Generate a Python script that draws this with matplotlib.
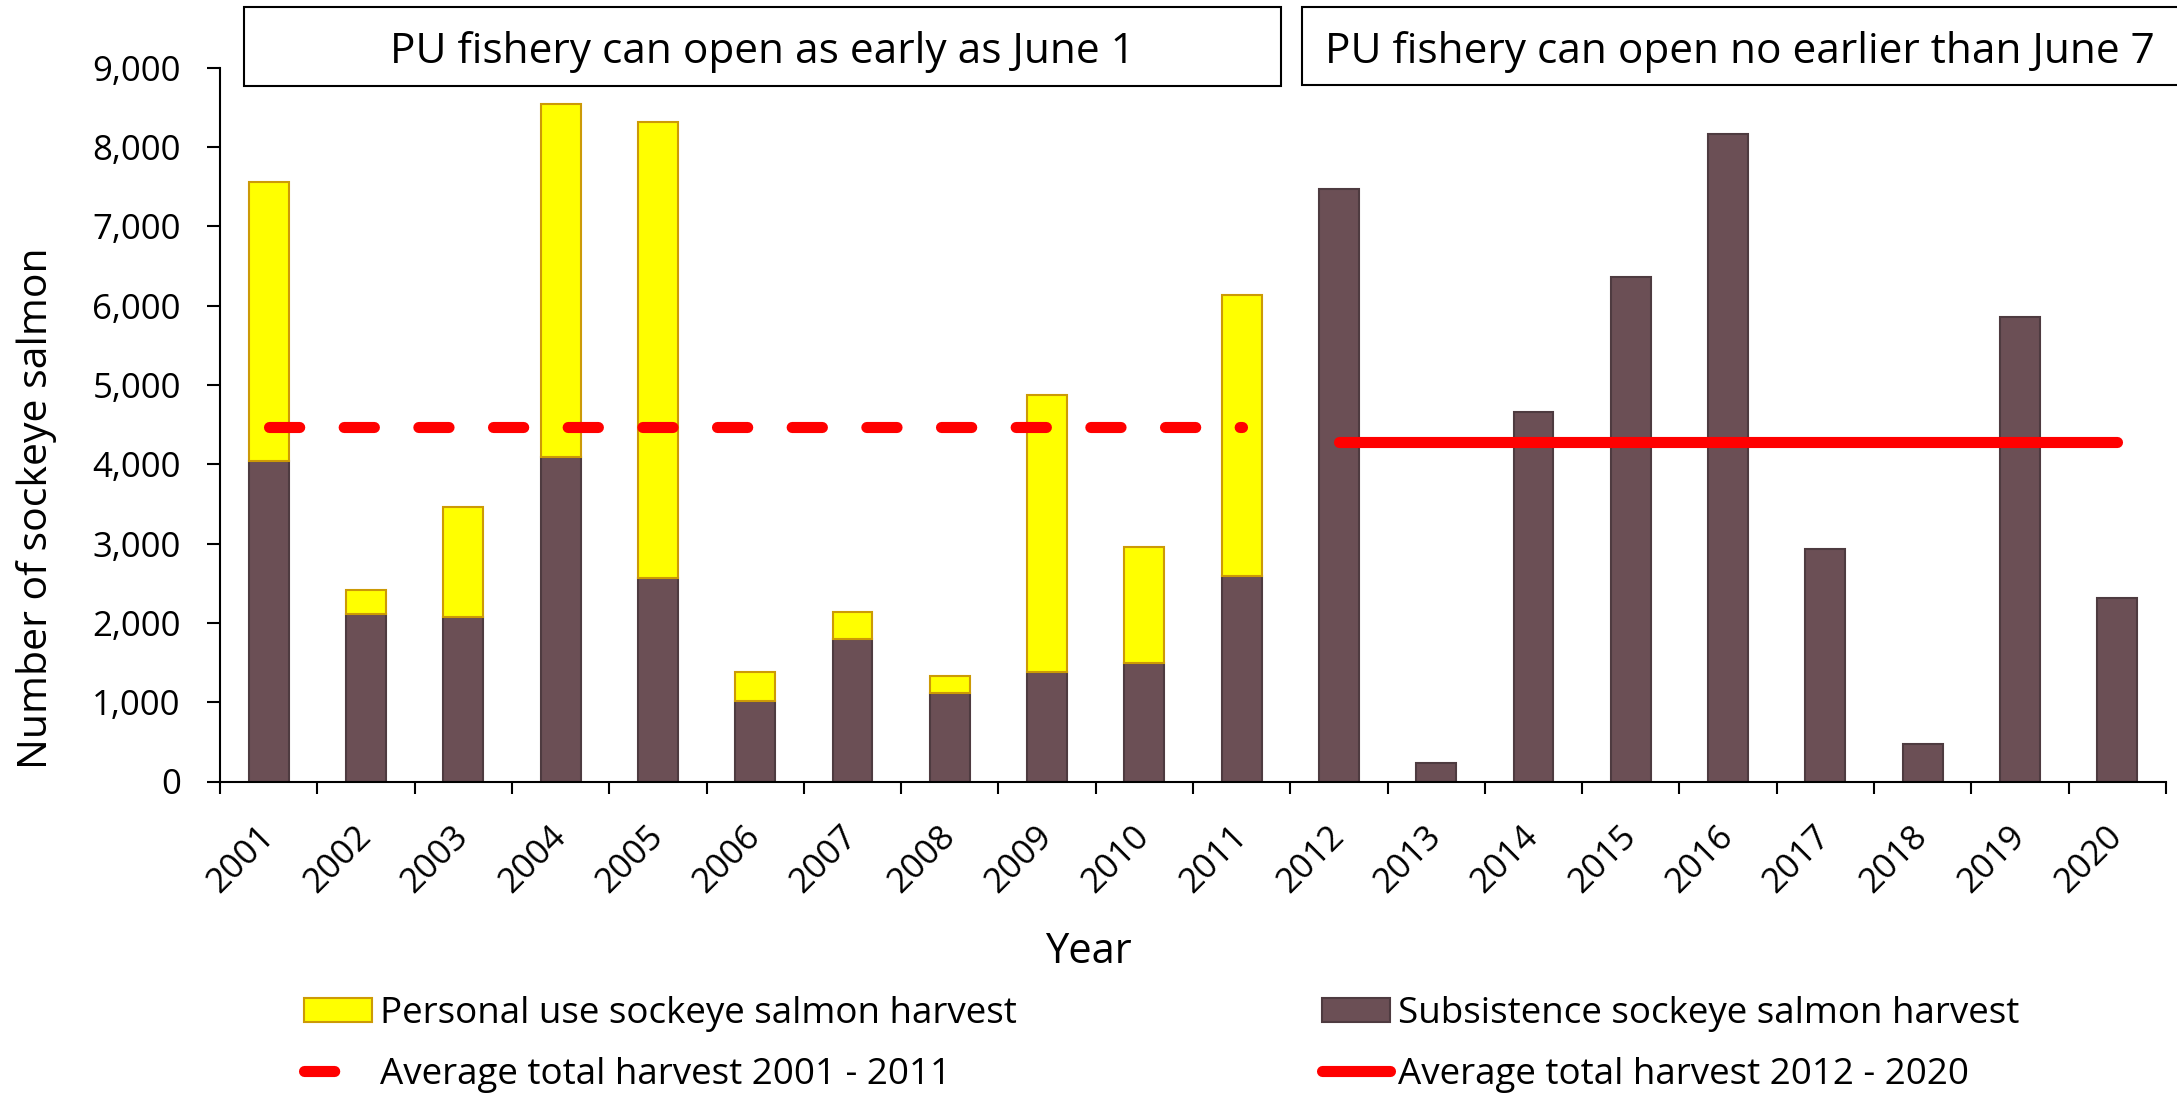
import numpy as np
import matplotlib
matplotlib.use("Agg")
import matplotlib.pyplot as plt
from matplotlib.patches import Rectangle, Patch
from matplotlib.lines import Line2D

# ---------------- data ----------------
years = ["2001", "2002", "2003", "2004", "2005", "2006", "2007", "2008", "2009", "2010",
         "2011", "2012", "2013", "2014", "2015", "2016", "2017", "2018", "2019", "2020"]
subsistence = [4045, 2110, 2072, 4096, 2563, 1017, 1802, 1114, 1382, 1496,
               2592, 7469, 239, 4659, 6355, 8166, 2936, 479, 5856, 2319]
personal_use = [3515, 310, 1386, 4450, 5747, 365, 340, 214, 3494, 1462, 3545]
ytick_vals = [0, 1000, 2000, 3000, 4000, 5000, 6000, 7000, 8000, 9000]
ytick_labels = ["0", "1,000", "2,000", "3,000", "4,000", "5,000", "6,000", "7,000", "8,000", "9,000"]
box_texts = ["PU fishery can open as early as June 1", "PU fishery can open no earlier than June 7"]
legend_labels = ["Personal use sockeye salmon harvest", "Subsistence sockeye salmon harvest",
                 "Average total harvest 2001 - 2011", "Average total harvest 2012 - 2020"]

# ---------------- style ----------------
W, H = 2177, 1095
DPI = 100
plt.rcParams['font.family'] = ['Open Sans', 'DejaVu Sans']
SUB_COL = "#6B4F55"
SUB_EDGE = "#4E3B40"
PU_COL = "#FFFF00"
PU_EDGE = "#CC9A06"
RED = "#FF0000"

fig = plt.figure(figsize=(W / DPI, H / DPI), dpi=DPI)
fx = lambda px: px / W
fy = lambda py: 1 - py / H

ax_left, ax_right, ax_top, ax_bot = 220.2, 2165.8, 67.7, 781.5
ax = fig.add_axes([fx(ax_left), fy(ax_bot), (ax_right - ax_left) / W, (ax_bot - ax_top) / H])

x = np.arange(len(years))
n_pu = len(personal_use)
bw = 0.41
ax.bar(x, subsistence, width=bw, color=SUB_COL, edgecolor=SUB_EDGE, linewidth=1.5, zorder=2)
ax.bar(x[:n_pu], personal_use, width=bw, bottom=subsistence[:n_pu], color=PU_COL,
       edgecolor=PU_EDGE, linewidth=1.5, zorder=2)

totals = np.array(subsistence, dtype=float)
totals[:n_pu] += np.array(personal_use)
avg1 = totals[:11].mean()
avg2 = totals[11:].mean()
lw_avg = 8
ax.plot([x[0], x[10]], [avg1, avg1], color=RED, lw=lw_avg, dashes=(2.72, 4.0),
        dash_capstyle='round', solid_capstyle='round', zorder=3)
ax.plot([x[11], x[19]], [avg2, avg2], color=RED, lw=lw_avg, solid_capstyle='round', zorder=3)

ax.set_xlim(-0.5, len(years) - 0.5)
ax.set_ylim(0, 9000)
for s in ['top', 'right']:
    ax.spines[s].set_visible(False)
for s in ['left', 'bottom']:
    ax.spines[s].set_linewidth(1.5)
    ax.spines[s].set_color('black')

ax.set_yticks(ytick_vals)
ax.set_yticklabels(ytick_labels, fontsize=25)
ax.tick_params(axis='y', length=9.4, width=1.5, pad=19, direction='out')

ax.set_xticks(x)
ax.set_xticklabels(years, fontsize=25, rotation=45, ha='right', va='center', rotation_mode='anchor')
ax.tick_params(axis='x', which='major', length=0, pad=36)
ax.set_xticks(np.arange(-0.5, len(years) + 0.5, 1.0), minor=True)
ax.tick_params(axis='x', which='minor', length=8.6, width=1.5, direction='out')

# axis titles
fig.text(fx(1088), fy(963), "Year", fontsize=30, ha='center', va='baseline')
fig.text(fx(47), fy(508), "Number of sockeye salmon", fontsize=29.5, rotation=90,
         ha='center', va='baseline', rotation_mode='anchor')

# top boxes
fig.add_artist(Rectangle((fx(244), fy(86)), (1281 - 244) / W, (86 - 7) / H, transform=fig.transFigure,
                         facecolor='white', edgecolor='black', lw=1.5))
fig.add_artist(Rectangle((fx(1302), fy(85)), (2190 - 1302) / W, (85 - 7) / H, transform=fig.transFigure,
                         facecolor='white', edgecolor='black', lw=1.5))
fig.text(fx(762), fy(63), box_texts[0], fontsize=30.5, ha='center', va='baseline')
fig.text(fx(1740), fy(63), box_texts[1], fontsize=30.5, ha='center', va='baseline')

# legends
h_pu = Patch(facecolor=PU_COL, edgecolor=PU_EDGE, linewidth=1.5)
h_sub = Patch(facecolor=SUB_COL, edgecolor=SUB_EDGE, linewidth=1.5)
h_a1 = Line2D([], [], color=RED, lw=lw_avg, dashes=(2.72, 4.0), dash_capstyle='round')
h_a2 = Line2D([], [], color=RED, lw=lw_avg, solid_capstyle='round')
common = dict(loc='upper left', frameon=False, fontsize=26.5, handlelength=1.86, handleheight=0.66,
              handletextpad=0.2, labelspacing=0.68, borderpad=0, borderaxespad=0)
fig.legend([h_pu, h_a1], [legend_labels[0], legend_labels[2]],
           bbox_to_anchor=(fx(304), fy(996)), **common)
fig.legend([h_sub, h_a2], [legend_labels[1], legend_labels[3]],
           bbox_to_anchor=(fx(1322), fy(996)), **common)

fig.savefig("out.png", dpi=DPI)
